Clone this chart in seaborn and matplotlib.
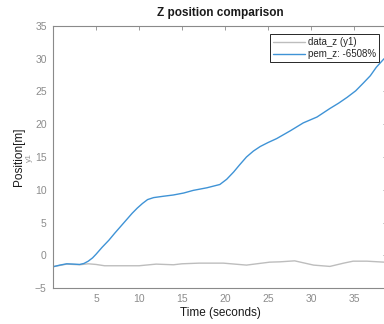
import matplotlib
matplotlib.use("Agg")
import matplotlib.pyplot as plt
import seaborn as sns
import pandas as pd

# Measured altitude (data_z) and model output (pem_z) over time
data_time = [0, 1.6, 3.1, 4.1, 5.0, 6.0, 8.0, 10.0, 12.0, 14.0, 15.0, 17.0,
             19.8, 22.5, 25.2, 26.4, 28.1, 30.3, 32.2, 33.8, 34.9, 36.5, 38.5]
data_z = [-1.75, -1.35, -1.45, -1.3, -1.4, -1.6, -1.6, -1.6, -1.35, -1.45, -1.3,
          -1.2, -1.2, -1.5, -1.05, -1.0, -0.85, -1.5, -1.7, -1.2, -0.9, -0.9, -1.05]

pem_time = [0, 0.8, 1.6, 2.4, 3.1, 3.6, 4.1, 4.6, 5.0, 5.7, 6.5, 7.2, 8.0, 8.6,
            9.2, 9.8, 10.4, 11.0, 11.7, 12.8, 14.0, 15.2, 16.3, 17.9, 19.4,
            20.2, 21.0, 21.7, 22.5, 23.3, 24.1, 25.0, 26.0, 27.6, 29.1, 30.7,
            32.2, 33.2, 34.2, 35.2, 36.1, 36.9, 37.6, 38.5]
pem_z = [-1.75, -1.5, -1.3, -1.35, -1.4, -1.25, -0.9, -0.4, 0.15, 1.2, 2.3,
         3.4, 4.6, 5.5, 6.4, 7.2, 7.9, 8.5, 8.8, 9.0, 9.2, 9.5, 9.9, 10.3, 10.8,
         11.6, 12.7, 13.8, 15.0, 15.9, 16.6, 17.2, 17.8, 19.0, 20.2, 21.1,
         22.4, 23.2, 24.1, 25.1, 26.3, 27.4, 28.7, 30.0]

series_labels = ["data_z (y1)", "pem_z: -6508%"]
x_ticks = [5, 10, 15, 20, 25, 30, 35]
y_ticks = [-5, 0, 5, 10, 15, 20, 25, 30, 35]

sns.set_style("white")
plt.rcParams["font.family"] = ["Liberation Sans", "DejaVu Sans"]

fig = plt.figure(figsize=(3.84, 3.24), dpi=100)
ax = fig.add_axes([0.138, 0.111, 0.87, 0.809])

df_data = pd.DataFrame({"t": data_time, "z": data_z})
df_pem = pd.DataFrame({"t": pem_time, "z": pem_z})

sns.lineplot(data=df_data, x="t", y="z", ax=ax, color="#bdbdbd", lw=1.0,
             label=series_labels[0])
sns.lineplot(data=df_pem, x="t", y="z", ax=ax, color="#3f93d6", lw=1.0,
             label=series_labels[1])

ax.set_xlim(0, 0.87 * 384 / 8.6)
ax.set_ylim(-5, 35)
ax.set_xticks(x_ticks)
ax.set_yticks(y_ticks)

spine_col = "#8a8a8a"
for s in ax.spines.values():
    s.set_color(spine_col)
    s.set_linewidth(0.8)

ax.tick_params(axis="both", direction="in", length=3, width=0.6,
               colors=spine_col, labelcolor="#8c8c8c", labelsize=7.5,
               top=True, right=True, pad=4.5)

ax.set_title("Z position comparison", fontsize=8.5, fontweight="bold",
             color="#1a1a1a", pad=7)
ax.set_xlabel("Time (seconds)", fontsize=8.5, color="#1a1a1a", labelpad=2)
ax.set_ylabel("Position[m]", fontsize=8.5, color="#1a1a1a", labelpad=7)
fig.text(0.0755, 0.514, "y1", rotation=90, fontsize=6, color="#9a9a9a",
         ha="center", va="center")

leg = ax.legend(loc="upper right", bbox_to_anchor=(0.976, 0.969), fontsize=7,
                frameon=True, fancybox=False, framealpha=1,
                handlelength=3.3, handletextpad=0.35, borderpad=0.3,
                labelspacing=0.2, borderaxespad=0)
leg.get_frame().set_edgecolor("#262626")
leg.get_frame().set_linewidth(0.7)

fig.savefig("out.png", dpi=100)
